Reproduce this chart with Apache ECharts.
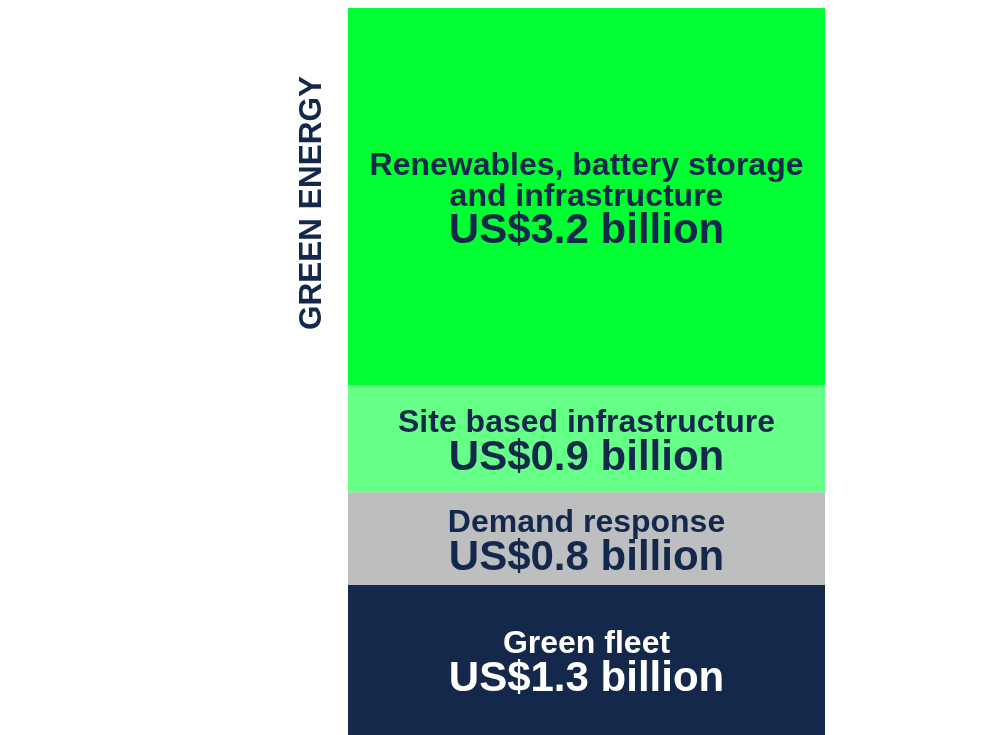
<!DOCTYPE html>
<html>
<head>
	<meta charset="utf-8">
	<title>Green energy</title>
	<style>
		html, body {
			margin: 0;
			padding: 0;
			background: #fff;
		}

		#main {
			width: 997px;
			height: 735px;
		}
	</style>
</head>
<body>
	<div id="main"></div>
	<script src="https://cdn.jsdelivr.net/npm/echarts@6/dist/echarts.min.js"></script>
	<script>
		// data (heights, labels show rounded values)
		var categories = ['GREEN ENERGY'];
		var segmentNames = ['Green fleet', 'Demand response', 'Site based infrastructure', 'Renewables, battery storage\nand infrastructure'];
		var segmentValues = [1.28, 0.79, 0.91, 3.22];
		var totalValue = 6.2;

		var navy = '#14284b';
		var segColors = ['#14284b', '#bcbec0', '#66ff88', '#00ff33'];
		var textColors = ['#ffffff', navy, navy, navy];

		var series = [];
		for (var i = 0; i < segmentNames.length; i++) {
			series.push({
				name: segmentNames[i],
				type: 'bar',
				stack: 'total',
				barWidth: '100%',
				itemStyle: { color: segColors[i] },
				label: {
					show: true,
					position: 'inside',
					offset: [0, 4],
					color: textColors[i],
					formatter: (function (name) {
						return function (p) {
							var lines = name.split('\n').map(function (l) { return '{t|' + l + '}'; });
							return lines.join('\n') + '\n{v|US$' + p.value.toFixed(1) + ' billion}';
						};
					})(segmentNames[i]),
					rich: {
						t: { fontSize: 32, fontWeight: 'bold', fontFamily: 'Liberation Sans', lineHeight: 31, color: textColors[i] },
						v: { fontSize: 42, fontWeight: 'bold', fontFamily: 'Liberation Sans', lineHeight: 39, color: textColors[i] }
					}
				},
				emphasis: { disabled: true },
				data: [segmentValues[i]]
			});
		}

		var option = {
			animation: false,
			backgroundColor: '#ffffff',
			grid: {
				left: 348,
				right: 172,
				top: 8,
				bottom: 0
			},
			xAxis: {
				type: 'category',
				data: categories,
				show: false
			},
			yAxis: {
				type: 'value',
				min: 0,
				max: totalValue,
				show: false
			},
			graphic: [{
				type: 'text',
				x: 312,
				y: 203,
				rotation: Math.PI / 2,
				style: {
					text: categories[0],
					fill: navy,
					font: 'bold 31.5px "Liberation Sans"',
					align: 'center',
					verticalAlign: 'middle'
				}
			}],
			series: series
		};

		var myChart = echarts.init(document.getElementById('main'));
		myChart.setOption(option);
	</script>
</body>
</html>
